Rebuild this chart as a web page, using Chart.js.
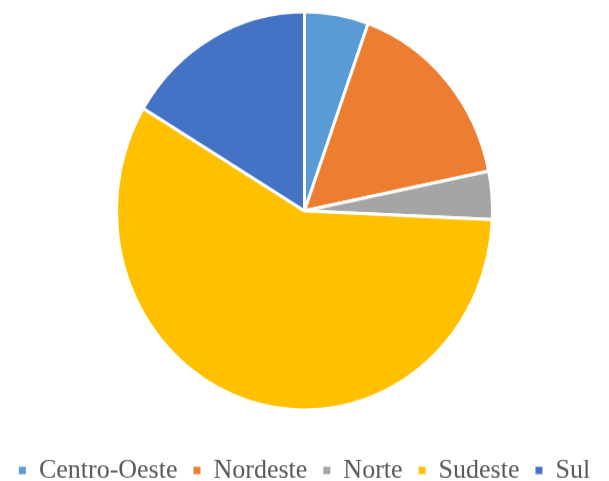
<!DOCTYPE html>
<html><head><meta charset="utf-8">
<script src="https://cdn.jsdelivr.net/npm/chart.js@4/dist/chart.umd.min.js"></script>
<style>
html,body{margin:0;padding:0;background:#fff;width:609px;height:481px;overflow:hidden;position:relative}
#w{position:absolute;left:0;top:-17.8px;width:609px;height:484px;transform:scaleY(1.0595);transform-origin:0 0}
</style>
</head><body><div id="w"><canvas id="c" width="609" height="484"></canvas></div>
<script>
const categories = ["Centro-Oeste","Nordeste","Norte","Sudeste","Sul"];
const values = [5.5, 16.3, 3.9, 57.9, 16.4];
const colors = ["#5B9BD5","#ED7D31","#A5A5A5","#FFC000","#4472C4"];
const baseGen = Chart.controllers.pie.overrides.plugins.legend.labels.generateLabels;
new Chart(document.getElementById('c'), {
  type: 'pie',
  data: { labels: categories, datasets: [{ data: values, backgroundColor: colors, borderColor: '#fff', borderWidth: 3, radius: 188 }] },
  options: {
    responsive: false, animation: false,
    layout: { padding: 0 },
    plugins: {
      tooltip: { enabled: false },
      legend: { position: 'bottom',
        labels: {
          font: { family: "'Liberation Serif', serif", size: 26 },
          color: '#595959', boxWidth: 7, boxHeight: 7, padding: 16,
          generateLabels: (chart) => baseGen(chart).map(it => Object.assign(it, { lineWidth: 0, strokeStyle: 'rgba(0,0,0,0)' }))
        } }
    }
  }
});
</script></body></html>
